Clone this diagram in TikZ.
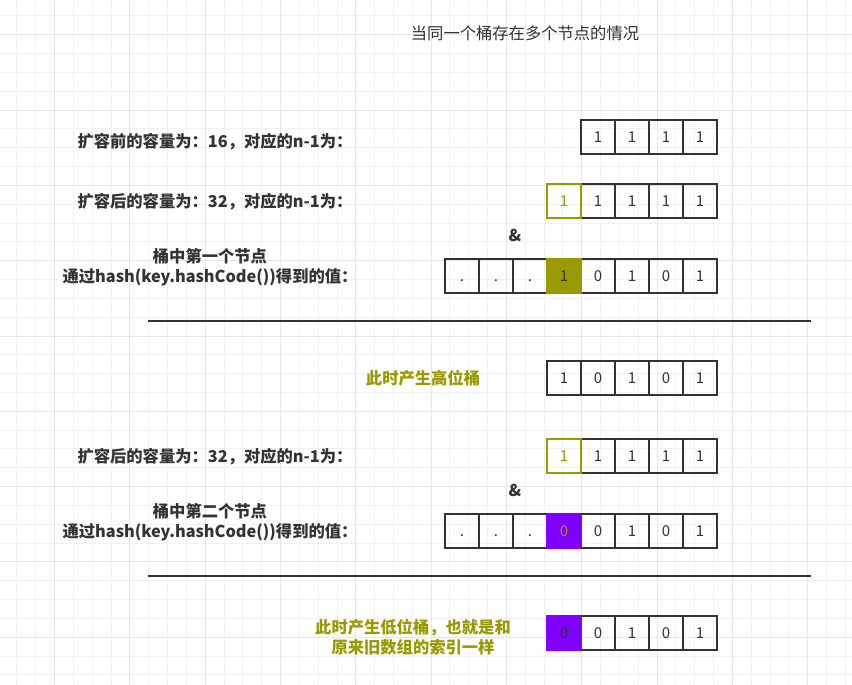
\documentclass[tikz,border=0pt]{standalone}
\usepackage{fontspec}
\setmainfont{Noto Sans CJK SC}
\usetikzlibrary{positioning}
\definecolor{ink}{HTML}{333333}
\definecolor{hibit}{HTML}{999900}
\definecolor{lobit}{HTML}{7F00FF}
\definecolor{gridminor}{HTML}{F1F1F1}
\definecolor{gridmajor}{HTML}{E6E6E6}
\tikzset{
    cell/.style = {
        draw=ink,
        shape=rectangle,
        minimum size=34pt,
        inner sep=0pt,
        outer sep=0pt,
        line width=2.4pt,
        text=ink,
        text height=11pt,
        text depth=0pt,
        font=\fontsize{15}{18}\selectfont
    },
    hicell/.style = {cell, draw=hibit, text=hibit},
    hifill/.style = {cell, draw=hibit, fill=hibit},
    lofill/.style = {cell, draw=lobit, fill=lobit},
    caption/.style = {
        text=ink,
        align=center,
        font=\bfseries\fontsize{16.3}{19.5}\selectfont
    },
    note/.style = {caption, text=hibit},
    rule/.style = {draw=ink, line width=2.4pt},
}

\begin{document}
\begin{tikzpicture}[x=1pt, y=-1pt]
    \fill[white] (0,0) rectangle (852,685);
    \useasboundingbox (0,0) rectangle (852,685);
    % background grid
    \foreach \k in {-2,...,42}
        \draw[gridminor, line width=0.9pt] ({54.5+18.83*\k},0) -- ({54.5+18.83*\k},685);
    \foreach \k in {-5,...,30}
        \draw[gridminor, line width=0.9pt] (0,{110+18.83*\k}) -- (852,{110+18.83*\k});
    \foreach \k in {0,4,...,40}
        \draw[gridmajor, line width=0.9pt] ({54.5+18.83*\k},0) -- ({54.5+18.83*\k},685);
    \foreach \k in {-4,0,...,28}
        \draw[gridmajor, line width=0.9pt] (0,{110+18.83*\k}) -- (852,{110+18.83*\k});

    \node[text=ink, font=\fontsize{16.3}{20}\selectfont] (title) at (525,33) {当同一个桶存在多个节点的情况};

    % capacity 16
    \node[caption, anchor=east] (cap16) at (356,142) {扩容前的容量为：16，对应的n-1为：};
    \foreach \v [count=\k from 5] in {1,1,1,1}
        \node[cell] (old\k) at ({462+34*(\k-1)},137) {\v};

    % capacity 32
    \node[caption, anchor=east] (cap32) at (356,202) {扩容后的容量为：32，对应的n-1为：};
    \foreach \v [count=\k from 5] in {1,1,1,1}
        \node[cell] (new\k) at ({462+34*(\k-1)},201) {\v};
    \node[hicell] (new4) at (564,201) {1};
    \node[caption] (andA) at (515,235) {\&};

    % first node
    \node[caption] (hashA) at (210,267) {桶中第一个节点\\通过hash(key.hashCode())得到的值：};
    \foreach \v [count=\k] in {.,.,.,1,0,1,0,1}
        \node[cell] (first\k) at ({462+34*(\k-1)},276) {\v};
    \node[hifill] (first4) at (564,276) {1};
    \draw[rule] (148,321) coordinate (ruleAw) -- (811,321) coordinate (ruleAe);

    \node[note] (high) at (423,378) {此时产生高位桶};
    \foreach \v [count=\k from 4] in {1,0,1,0,1}
        \node[cell] (hi\k) at ({462+34*(\k-1)},378) {\v};

    % capacity 32 again
    \node[caption, anchor=east] (cap32b) at (356,457) {扩容后的容量为：32，对应的n-1为：};
    \foreach \v [count=\k from 5] in {1,1,1,1}
        \node[cell] (newb\k) at ({462+34*(\k-1)},456) {\v};
    \node[hicell] (newb4) at (564,456) {1};
    \node[caption] (andB) at (515,490) {\&};

    % second node
    \node[caption] (hashB) at (210,522) {桶中第二个节点\\通过hash(key.hashCode())得到的值：};
    \foreach \v [count=\k] in {.,.,.,0,0,1,0,1}
        \node[cell] (second\k) at ({462+34*(\k-1)},531) {\v};
    \node[lofill, text=hibit] (second4) at (564,531) {0};
    \draw[rule] (148,576) coordinate (ruleBw) -- (811,576) coordinate (ruleBe);

    \node[note] (low) at (413,637) {此时产生低位桶，也就是和\\原来旧数组的索引一样};
    \foreach \v [count=\k from 5] in {0,1,0,1}
        \node[cell] (lo\k) at ({462+34*(\k-1)},633) {\v};
    \node[lofill] (lo4) at (564,633) {0};
\end{tikzpicture}
\end{document}
